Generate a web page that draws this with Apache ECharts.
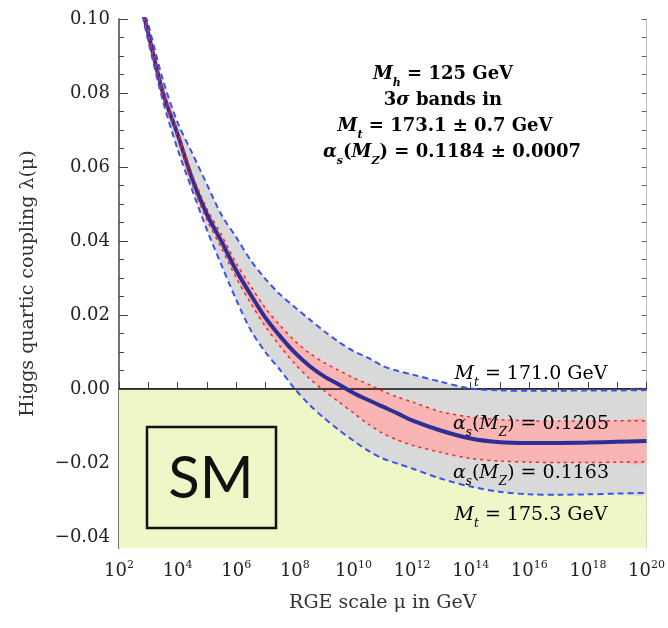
<!DOCTYPE html>
<html>
<head>
<meta charset="utf-8">
<script src="https://cdn.jsdelivr.net/npm/echarts@6/dist/echarts.min.js"></script>
<style>
  html, body { margin: 0; padding: 0; background: #fff; }
  #chart { width: 668px; height: 628px; }
</style>
</head>
<body>
<div id="chart"></div>
<script>
// x = log10(mu / GeV)
const logMu = [2.8, 3, 3.5, 4, 4.5, 5, 5.5, 6, 6.5, 7, 7.5, 8, 8.5, 9, 9.5, 10, 10.5, 11, 11.5, 12, 13, 14, 15, 16, 17, 18, 19, 20];

// central curve  Mt = 173.1, alpha_s = 0.1184
const lamCentral = [0.1025, 0.096, 0.080, 0.0688, 0.0567, 0.0472, 0.0398, 0.0320, 0.0254, 0.0192, 0.0142, 0.0098, 0.0062, 0.0034, 0.0012, -0.0011, -0.0030, -0.0048, -0.0066, -0.0085, -0.0113, -0.0134, -0.0144, -0.0146, -0.0146, -0.0145, -0.0143, -0.0141];
// Mt = 171.0 GeV (upper blue dashed)
const lamMt171 = [0.1035, 0.0985, 0.0835, 0.0720, 0.0637, 0.0553, 0.0470, 0.0410, 0.0347, 0.0297, 0.0255, 0.0221, 0.0188, 0.0156, 0.0127, 0.0102, 0.0084, 0.0062, 0.0049, 0.0039, 0.0019, 0.0001, -0.0004, -0.0005, -0.0005, -0.0004, -0.0004, -0.0003];
// Mt = 175.3 GeV (lower blue dashed)
const lamMt175 = [0.1010, 0.094, 0.0778, 0.0648, 0.0537, 0.0430, 0.0334, 0.0241, 0.0158, 0.0099, 0.0051, 0.0000, -0.0043, -0.0079, -0.0111, -0.0140, -0.0167, -0.0188, -0.0202, -0.0215, -0.0243, -0.0264, -0.0278, -0.0285, -0.0286, -0.0285, -0.0283, -0.0281];
// alpha_s(MZ) = 0.1205 (upper red dashed)
const lamAs1205 = [0.1028, 0.0965, 0.0808, 0.0698, 0.0580, 0.0487, 0.0416, 0.0340, 0.0277, 0.0218, 0.0171, 0.0130, 0.0097, 0.0071, 0.0050, 0.0030, 0.0013, -0.0006, -0.0022, -0.0035, -0.0062, -0.0076, -0.0083, -0.0086, -0.0087, -0.0087, -0.0086, -0.0086];
// alpha_s(MZ) = 0.1163 (lower red dashed)
const lamAs1163 = [0.1022, 0.0955, 0.0792, 0.0678, 0.0553, 0.0457, 0.0380, 0.0300, 0.0231, 0.0168, 0.0115, 0.0068, 0.0028, -0.0005, -0.0035, -0.0065, -0.0095, -0.0120, -0.0138, -0.0152, -0.0172, -0.0188, -0.0195, -0.0198, -0.0199, -0.0199, -0.0198, -0.0197];

const yMajorTicks = [-0.04, -0.02, 0, 0.02, 0.04, 0.06, 0.08, 0.10];
const yMinorTicks = [-0.04, -0.035, -0.03, -0.025, -0.02, -0.015, -0.01, -0.005, 0, 0.005, 0.01, 0.015, 0.02, 0.025, 0.03, 0.035, 0.04, 0.045, 0.05, 0.055, 0.06, 0.065, 0.07, 0.075, 0.08, 0.085, 0.09, 0.095, 0.10];
const yMin = -0.043, yMax = 0.10;

const SERIF = '"DejaVu Serif", "Liberation Serif", serif';
const SMOOTH = 0.3;

var myChart = echarts.init(document.getElementById('chart'));

function pairs(ys) {
    return logMu.map((x, i) => [x, ys[i]]);
}

const hidden = { show: false };

// filled band between two curves, drawn as one polygon through the axes
function band(name, upper, lower, color, z) {
    return {
        name: name, type: 'custom', silent: true, z: z,
        data: [[logMu[0], upper[0]]],
        renderItem: function (params, api) {
            const pts = [];
            for (let i = 0; i < logMu.length; i++) pts.push(api.coord([logMu[i], upper[i]]));
            for (let i = logMu.length - 1; i >= 0; i--) pts.push(api.coord([logMu[i], lower[i]]));
            const cs = params.coordSys;
            return {
                type: 'polygon',
                shape: { points: pts, smooth: SMOOTH },
                style: { fill: color },
                clipPath: { type: 'rect', shape: { x: cs.x, y: cs.y, width: cs.width, height: cs.height } }
            };
        }
    };
}

function dashed(name, ys, color, width, dash) {
    return {
        name: name, type: 'line', data: pairs(ys), smooth: SMOOTH,
        showSymbol: false, silent: true, z: 6,
        lineStyle: { color: color, width: width, type: dash }
    };
}

function txt(text, x, y, rich) {
    return {
        type: 'text', x: x, y: y, silent: true, z: 20,
        style: { text: text, rich: rich, align: 'center', verticalAlign: 'middle' }
    };
}

function richSet(color, size, weight) {
    return {
        t: { fontFamily: SERIF, fontSize: size, fontWeight: weight, color: color, lineHeight: 24 },
        i: { fontFamily: SERIF, fontSize: size, fontWeight: weight, fontStyle: 'italic', color: color, lineHeight: 24 },
        s: { fontFamily: SERIF, fontSize: Math.round(size * 0.62), fontWeight: weight, fontStyle: 'italic', color: color, lineHeight: 14, verticalAlign: 'bottom', padding: [0, 0, -3, 0] }
    };
}

const infoRich = richSet('#2a2a2a', 18, 'bold');
const blueRich = richSet('#2f3fe0', 19, 'normal');
const redRich = richSet('#ee2424', 19, 'normal');

const option = {
    backgroundColor: '#fff',
    animation: false,
    grid: { left: 119, right: 18, top: 19, bottom: 80 },
    xAxis: [
        {
            type: 'value', min: 2, max: 20, interval: 1, position: 'bottom',
            name: 'RGE scale μ in GeV', nameLocation: 'middle', nameGap: 46,
            nameTextStyle: { fontFamily: SERIF, fontSize: 19, color: '#333' },
            axisLine: { show: true, lineStyle: { color: '#444', width: 1.5 } },
            axisTick: { show: true, inside: true, length: 7, lineStyle: { color: '#444' } },
            splitLine: hidden,
            axisLabel: {
                margin: 12, showMinLabel: true, showMaxLabel: true,
                formatter: v => (v % 2 === 0 ? '{b|10}{e|' + v + '}' : ''),
                rich: {
                    b: { fontFamily: SERIF, fontSize: 18, color: '#222', lineHeight: 22 },
                    e: { fontFamily: SERIF, fontSize: 11, color: '#222', lineHeight: 12, verticalAlign: 'top' }
                }
            }
        },
        {
            type: 'value', min: 2, max: 20, interval: 1, position: 'top',
            axisLine: { show: true, lineStyle: { color: '#bbb', width: 1 } },
            axisTick: { show: true, inside: true, length: 6, lineStyle: { color: '#888' } },
            axisLabel: hidden, splitLine: hidden
        }
    ],
    yAxis: [
        {
            type: 'value', min: yMin, max: yMax, position: 'left',
            name: 'Higgs quartic coupling λ(μ)', nameLocation: 'middle', nameGap: 81, nameRotate: 90,
            nameTextStyle: { fontFamily: SERIF, fontSize: 19, color: '#333' },
            axisLine: { show: true, lineStyle: { color: '#444', width: 1.5 } },
            axisTick: { show: true, inside: true, length: 9, customValues: yMajorTicks, lineStyle: { color: '#444' } },
            axisLabel: {
                customValues: yMajorTicks, margin: 9,
                fontFamily: SERIF, fontSize: 18, color: '#222',
                formatter: v => v.toFixed(2).replace('-', '\u2212')
            },
            splitLine: hidden
        },
        {
            type: 'value', min: yMin, max: yMax, position: 'left',
            axisLine: hidden,
            axisTick: { show: true, inside: true, length: 5, customValues: yMinorTicks, lineStyle: { color: '#444' } },
            axisLabel: hidden, splitLine: hidden
        },
        {
            type: 'value', min: yMin, max: yMax, position: 'right',
            axisLine: { show: true, lineStyle: { color: '#bbb', width: 1 } },
            axisTick: { show: true, inside: true, length: 5, customValues: yMinorTicks, lineStyle: { color: '#666' } },
            axisLabel: hidden, splitLine: hidden
        }
    ],
    series: [
        {
            // SM region below zero
            name: 'sm', type: 'line', data: pairs(lamCentral), showSymbol: false, silent: true, z: 1,
            lineStyle: { opacity: 0 },
            markArea: {
                silent: true,
                itemStyle: { color: '#eff7c9' },
                data: [[{ yAxis: yMin }, { yAxis: 0 }]]
            }
        },
        band('Mt band', lamMt171, lamMt175, '#d9d9d9', 2),
        band('alpha_s band', lamAs1205, lamAs1163, '#f9b4b4', 3),
        {
            name: 'central', type: 'line', data: pairs(lamCentral), smooth: SMOOTH,
            showSymbol: false, silent: true, z: 5,
            lineStyle: { color: '#2b2f96', width: 4 },
            markLine: {
                silent: true, symbol: 'none', label: hidden,
                lineStyle: { color: '#111', width: 1.5, type: 'solid' },
                data: [{ yAxis: 0 }]
            }
        },
        dashed('Mt 171.0', lamMt171, '#3b52ec', 2, [6, 4]),
        dashed('Mt 175.3', lamMt175, '#3b52ec', 2, [6, 4]),
        dashed('as 0.1205', lamAs1205, '#ee2a2a', 1.5, [3, 4]),
        dashed('as 0.1163', lamAs1163, '#ee2a2a', 1.5, [3, 4])
    ],
    graphic: [
        txt('{i|M}{s|h}{t| = 125 GeV}', 443, 74, infoRich),
        txt('{t|3}{i|σ}{t| bands in}', 443, 100, infoRich),
        txt('{i|M}{s|t}{t| = 173.1 ± 0.7 GeV}', 445, 126, infoRich),
        txt('{i|α}{s|s}{t|(}{i|M}{s|Z}{t|) = 0.1184 ± 0.0007}', 452, 152, infoRich),
        txt('{i|M}{s|t}{t| = 171.0 GeV}', 531, 374, blueRich),
        txt('{i|α}{s|s}{t|(}{i|M}{s|Z}{t|) = 0.1205}', 531, 424, redRich),
        txt('{i|α}{s|s}{t|(}{i|M}{s|Z}{t|) = 0.1163}', 531, 473, redRich),
        txt('{i|M}{s|t}{t| = 175.3 GeV}', 531, 515, blueRich),
        {
            type: 'rect', silent: true, z: 20,
            shape: { x: 147, y: 427, width: 129, height: 101 },
            style: { fill: 'none', stroke: '#111', lineWidth: 2.5 }
        },
        {
            type: 'text', x: 211, y: 479, silent: true, z: 20,
            style: { text: 'SM', fontFamily: 'Lato, "Open Sans", sans-serif', fontSize: 58, fill: '#111', align: 'center', verticalAlign: 'middle' }
        }
    ]
};

myChart.setOption(option);
</script>
</body>
</html>
